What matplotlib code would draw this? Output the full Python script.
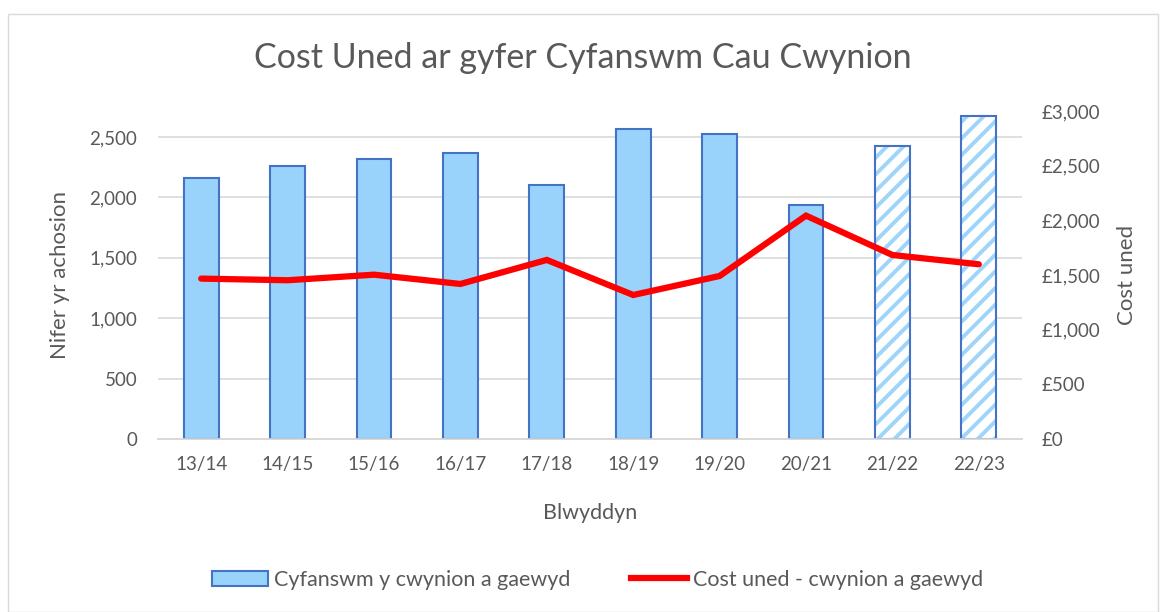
import matplotlib.pyplot as plt
from matplotlib.patches import Rectangle, Patch
from matplotlib.lines import Line2D
from matplotlib.ticker import FuncFormatter
import numpy as np

plt.rcParams['font.family'] = ['Lato', 'DejaVu Sans']
plt.rcParams['hatch.linewidth'] = 2.8

years = ["13/14", "14/15", "15/16", "16/17", "17/18", "18/19", "19/20", "20/21", "21/22", "22/23"]
cases = [2160, 2260, 2320, 2370, 2105, 2566, 2525, 1940, 2428, 2674]
unit_cost = [1467, 1452, 1503, 1418, 1638, 1317, 1491, 2043, 1683, 1598]
estimated = [False] * 8 + [True] * 2

grey = "#595959"
bar_face = "#99D3FC"
bar_edge = "#4472C4"

fig = plt.figure(figsize=(11.65, 6.12), dpi=100)
fig.patches.append(Rectangle((8 / 1165, 0.0), 1150 / 1165, 1 - 14 / 612,
                             transform=fig.transFigure, fill=False,
                             edgecolor="#d9d9d9", linewidth=1))
ax = fig.add_axes([158 / 1165, 1 - 439 / 612, 864 / 1165, 328 / 612])
ax2 = ax.twinx()

x = np.arange(len(years))
w = 0.405
for i in x:
    if estimated[i]:
        # hatched fill for the last two years, outline drawn on top
        ax.bar(i, cases[i], w, color="white", edgecolor="#9fd4fb", hatch="//",
               linewidth=0, zorder=2)
        ax.bar(i, cases[i], w, fill=False, edgecolor=bar_edge, linewidth=1.5, zorder=3)
    else:
        ax.bar(i, cases[i], w, color=bar_face, edgecolor=bar_edge, linewidth=1.5, zorder=3)

ax2.plot(x, unit_cost, color="#ff0000", linewidth=4.5, solid_capstyle="round",
         solid_joinstyle="miter", zorder=4)

ax.set_xlim(-0.5, len(years) - 0.5)
ax.set_ylim(0, 2715)
ax2.set_ylim(0, 3000)
ax.set_yticks(np.arange(0, 2501, 500))
ax2.set_yticks(np.arange(0, 3001, 500))
ax.yaxis.set_major_formatter(FuncFormatter(lambda v, p: f"{int(v):,}"))
ax2.yaxis.set_major_formatter(FuncFormatter(lambda v, p: f"£{int(v):,}"))
ax.set_xticks(x)
ax.set_xticklabels(years)

ax.grid(axis="y", color="#d9d9d9", linewidth=1.2, zorder=0)
ax.set_axisbelow(True)
for a in (ax, ax2):
    for s in ("top", "left", "right"):
        a.spines[s].set_visible(False)
    a.spines["bottom"].set_color("#d9d9d9")
    a.spines["bottom"].set_linewidth(1.2)
    a.tick_params(length=0, labelsize=13.5, colors=grey)
ax.tick_params(axis="x", pad=12)
ax.tick_params(axis="y", pad=15)
ax2.tick_params(axis="y", pad=14)

ax.set_ylabel("Nifer yr achosion", fontsize=16, color=grey, labelpad=14)
ax2.set_ylabel("Cost uned", fontsize=16, color=grey, labelpad=12)
ax.set_xlabel("Blwyddyn", fontsize=15.5, color=grey, labelpad=22)
fig.text(0.5, 1 - 58 / 612, "Cost Uned ar gyfer Cyfanswm Cau Cwynion", ha="center",
         va="center", fontsize=24.5, color=grey)

handles = [Patch(facecolor=bar_face, edgecolor=bar_edge, linewidth=1.5),
           Line2D([0], [0], color="#ff0000", linewidth=4.5)]
fig.legend(handles, ["Cyfanswm y cwynion a gaewyd", "Cost uned - cwynion a gaewyd"],
           loc="center", bbox_to_anchor=(0.513, 1 - 580 / 612), ncol=2, frameon=False,
           fontsize=15.5, labelcolor=grey, columnspacing=2.8, handlelength=2.6,
           handletextpad=0.3)

fig.savefig("out.png", dpi=100)
